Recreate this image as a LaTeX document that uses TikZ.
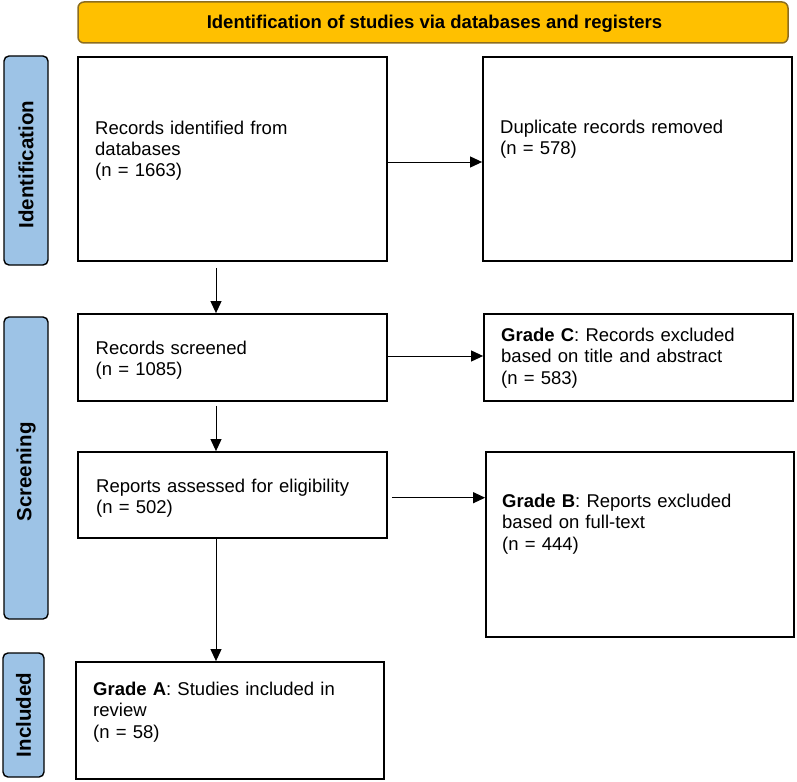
\documentclass[tikz,border=0pt]{standalone}
\usepackage{fontspec}
\setmainfont{Liberation Sans}
\usetikzlibrary{arrows.meta}
\definecolor{hdr}{HTML}{FFC000}
\definecolor{hdrline}{HTML}{8C6D1F}
\definecolor{side}{HTML}{9DC3E6}
\begin{document}
\begin{tikzpicture}[x=1pt,y=-1pt,
  box/.style={draw=black, line width=1.8pt, fill=white, inner sep=0},
  txt/.style={anchor=base west, inner sep=0, align=left, text width=295pt, font=\fontsize{18.5}{21.5}\selectfont},
  sidebar/.style={draw=black, line width=1.4pt, fill=side, rounded corners=5pt, inner sep=0},
  sidetxt/.style={rotate=90, inner sep=0, font=\fontsize{20.5}{24}\selectfont\bfseries},
  arr/.style={-{Triangle[length=12pt,width=11pt]}, line width=1pt}]
\useasboundingbox (0,0) rectangle (797,781);

% header
\node[draw=hdrline, line width=1.5pt, fill=hdr, rounded corners=6pt, minimum width=710pt, minimum height=41pt, inner sep=0] (hdr) at (433,22.5) {};
\node[anchor=base, inner sep=0, font=\fontsize{18.5}{21}\selectfont\bfseries] (hdrt) at (434.5,29) {Identification of studies via databases and registers};

% side bars
\node[sidebar, minimum width=44pt, minimum height=209pt] (sid) at (26,160.5) {};
\node[sidetxt] (sidt) at ([yshift=-4pt]sid.center) {Identification};
\node[sidebar, minimum width=44pt, minimum height=302pt] (sscr) at (26,468) {};
\node[sidetxt] (sscrt) at ([yshift=-4pt]sscr.center) {Screening};
\node[sidebar, minimum width=41pt, minimum height=124pt] (sinc) at (23.5,715) {};
\node[sidetxt] (sinct) at (sinc.center) {Included};

% boxes
\node[box, minimum width=309pt, minimum height=204pt] (b1) at (232.5,159) {};
\node[box, minimum width=309pt, minimum height=204pt] (b2) at (637.5,159) {};
\node[box, minimum width=309pt, minimum height=87pt] (b3) at (232.5,357.5) {};
\node[box, minimum width=309pt, minimum height=87pt] (b4) at (638.5,357.5) {};
\node[box, minimum width=309pt, minimum height=86pt] (b5) at (232.5,495) {};
\node[box, minimum width=308pt, minimum height=185pt] (b6) at (640,544.5) {};
\node[box, minimum width=308pt, minimum height=117pt] (b7) at (230,720.5) {};

% texts
\node[txt] (t1) at (95,134) {Records identified from\\databases\\(n = 1663)};
\node[txt] (t2) at (500,133) {Duplicate records removed\\(n = 578)};
\node[txt] (t3) at (95.5,354) {Records screened\\(n = 1085)};
\node[txt] (t4) at (501,341) {\textbf{Grade C}: Records excluded\\based on title and abstract\\(n = 583)};
\node[txt] (t5) at (96,492) {Reports assessed for eligibility\\(n = 502)};
\node[txt] (t6) at (502,507) {\textbf{Grade B}: Reports excluded\\based on full-text\\(n = 444)};
\node[txt] (t7) at (93,695) {\textbf{Grade A}: Studies included in\\review\\(n = 58)};

% arrows
\coordinate (a56) at ([yshift=-2.7pt]b5.east);
\draw[arr] ([yshift=-3pt]b1.east) -- ([yshift=-3pt]b2.west);
\draw[arr] ([xshift=-16.5pt,yshift=-6pt]b1.south) -- ([xshift=-16.5pt]b3.north);
\draw[arr] ([yshift=1.5pt]b3.east) -- ([yshift=1.5pt]b4.west);
\draw[arr] ([xshift=-16.5pt,yshift=-4pt]b3.south) -- ([xshift=-16.5pt]b5.north);
\draw[arr] ([xshift=4pt]a56) -- (b6.west |- a56);
\draw[arr] ([xshift=-16.5pt]b5.south) -- ([xshift=-14pt]b7.north);
\end{tikzpicture}
\end{document}
